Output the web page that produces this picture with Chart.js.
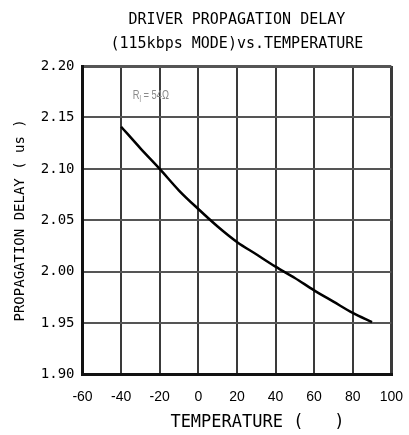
<!DOCTYPE html>
<html>
<head>
<meta charset="utf-8">
<script src="https://cdn.jsdelivr.net/npm/chart.js@4"></script>
<style>
  html, body { margin: 0; padding: 0; background: #fff; }
  #wrap { width: 409px; height: 435px; }
</style>
</head>
<body>
<div id="wrap"><canvas id="delayChart"></canvas></div>
<script>
// values
const temperatures = [-40, -30, -20, -10, 0, 10, 20, 30, 40, 50, 60, 70, 80, 90];
const delays = [2.141, 2.120, 2.100, 2.079, 2.061, 2.044, 2.029, 2.017, 2.005, 1.994, 1.982, 1.971, 1.960, 1.951];
const xTicks = [-60, -40, -20, 0, 20, 40, 60, 80, 100];
const yTicks = [1.90, 1.95, 2.00, 2.05, 2.10, 2.15, 2.20];
const titleLines = ['DRIVER PROPAGATION DELAY', '(115kbps MODE)vs.TEMPERATURE'];

const mono = '"DejaVu Sans Mono", monospace';

// R_l = 54Ω label in the top left corner
const noteLabel = {
    id: 'noteLabel',
    afterDatasetsDraw(chart) {
        const ctx = chart.ctx;
        const x = chart.scales.x.getPixelForValue(-34);
        const y = chart.scales.y.getPixelForValue(2.171);
        ctx.save();
        ctx.translate(x, y);
        ctx.scale(0.72, 1);
        ctx.fillStyle = '#8a8a8a';
        ctx.textBaseline = 'middle';
        ctx.font = '13px "Liberation Sans", sans-serif';
        ctx.fillText('R', 0, 0);
        const w = ctx.measureText('R').width;
        ctx.font = '9px "Liberation Sans", sans-serif';
        ctx.fillText('l', w, 4);
        ctx.font = '13px "Liberation Sans", sans-serif';
        ctx.fillText(' = 54Ω', w + 2, 0);
        ctx.restore();
    }
};

function edgeWidth(values) {
    return (c) => {
        const v = c.tick ? c.tick.value : null;
        return (v === values[0] || v === values[values.length - 1]) ? 3 : 2;
    };
}

new Chart(document.getElementById('delayChart').getContext('2d'), {
    type: 'line',
    data: {
        labels: temperatures,
        datasets: [{
            data: temperatures.map((t, i) => ({ x: t, y: delays[i] })),
            borderColor: '#000',
            borderWidth: 2.5,
            pointRadius: 0,
            cubicInterpolationMode: 'monotone',
            fill: false
        }]
    },
    options: {
        responsive: true,
        maintainAspectRatio: false,
        animation: false,
        layout: { padding: { left: 12, right: 0, top: 4, bottom: 5 } },
        plugins: {
            legend: { display: false },
            tooltip: { enabled: false },
            title: {
                display: true,
                text: titleLines,
                fullSize: false,
                color: '#000',
                font: { family: mono, size: 15, weight: 'normal', lineHeight: 1.6 },
                padding: { top: 4, bottom: 10 }
            }
        },
        scales: {
            x: {
                type: 'linear',
                min: -60,
                max: 100,
                afterBuildTicks: (scale) => { scale.ticks = xTicks.map(v => ({ value: v })); },
                grid: {
                    color: '#3a3a3a',
                    lineWidth: edgeWidth(xTicks),
                    drawTicks: true,
                    tickLength: 9,
                    tickColor: 'rgba(0,0,0,0)'
                },
                border: { color: '#111', width: 3 },
                ticks: {
                    color: '#000',
                    padding: 6,
                    maxRotation: 0,
                    font: { family: '"Liberation Sans", Arial, sans-serif', size: 14, lineHeight: 1 }
                },
                title: {
                    display: true,
                    text: '    TEMPERATURE (   )',
                    color: '#000',
                    font: { family: mono, size: 17, lineHeight: 0.9 },
                    padding: { top: 5, bottom: 0 }
                }
            },
            y: {
                type: 'linear',
                min: 1.90,
                max: 2.20,
                afterBuildTicks: (scale) => { scale.ticks = yTicks.map(v => ({ value: v })); },
                grid: { color: '#555', lineWidth: edgeWidth(yTicks), drawTicks: false },
                border: { color: '#111', width: 3 },
                ticks: {
                    color: '#000',
                    padding: 8,
                    font: { family: mono, size: 14 },
                    callback: (v) => Number(v).toFixed(2)
                },
                title: {
                    display: true,
                    text: 'PROPAGATION DELAY ( us )',
                    color: '#000',
                    font: { family: mono, size: 14 },
                    padding: { top: 0, bottom: 4 }
                }
            }
        }
    },
    plugins: [noteLabel]
});
</script>
</body>
</html>
